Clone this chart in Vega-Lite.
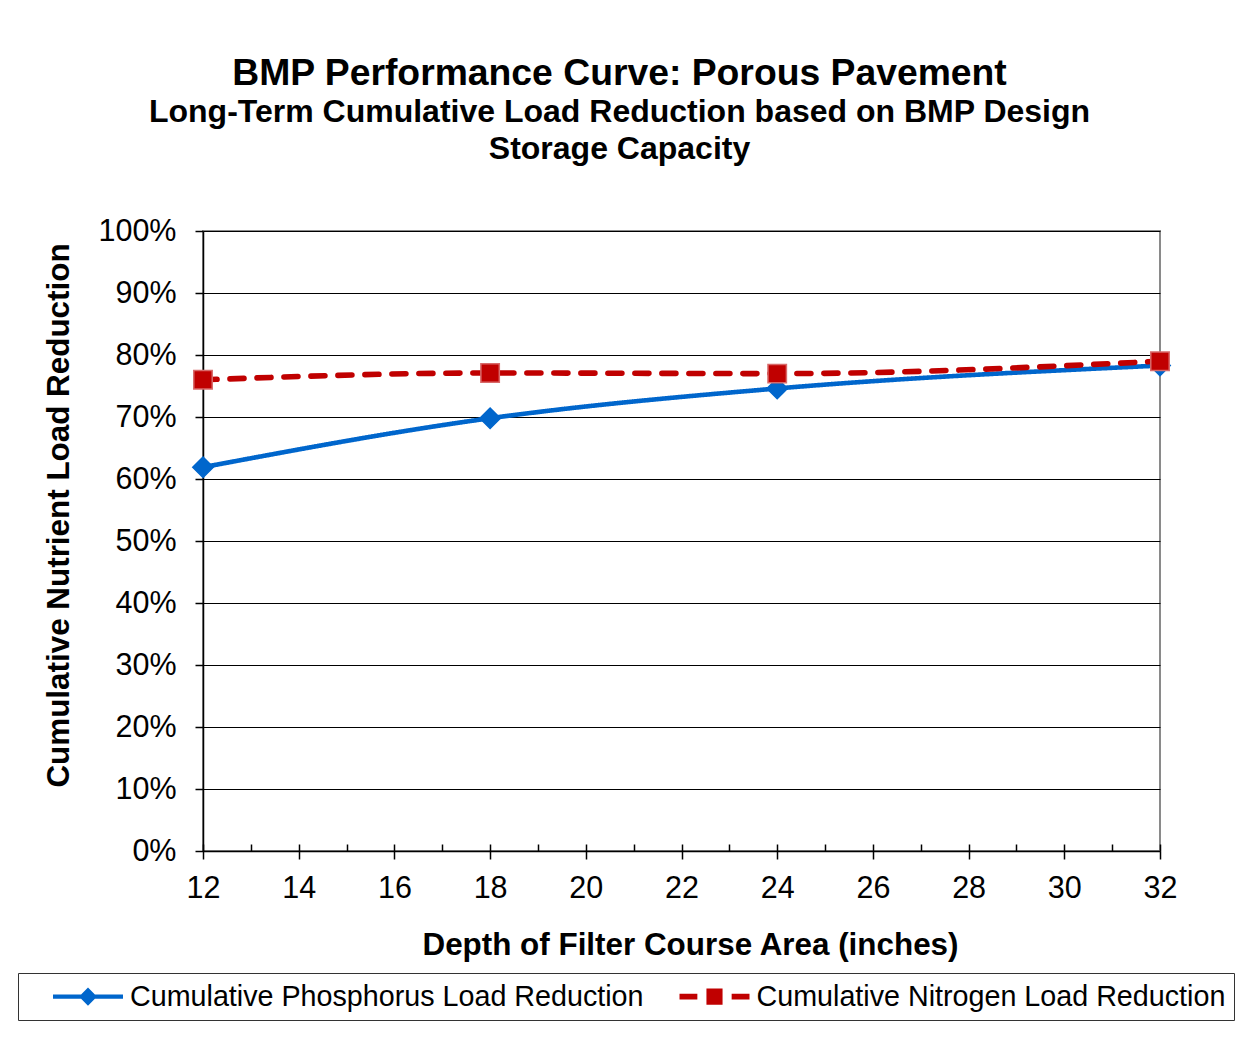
{
  "$schema": "https://vega.github.io/schema/vega-lite/v6.json",
  "width": 957,
  "height": 620,
  "autosize": "none",
  "padding": {"left": 203, "top": 231, "right": 92, "bottom": 212},
  "background": "white",
  "title": {
    "text": "BMP Performance Curve: Porous Pavement",
    "subtitle": ["Long-Term Cumulative Load Reduction based on BMP Design", "Storage Capacity"],
    "font": "Liberation Sans",
    "fontSize": 37.3,
    "fontWeight": "bold",
    "color": "#000",
    "subtitleFont": "Liberation Sans",
    "subtitleFontSize": 32,
    "subtitleFontWeight": "bold",
    "subtitleColor": "#000",
    "subtitleLineHeight": 37,
    "subtitlePadding": 4,
    "anchor": "middle",
    "dx": -62,
    "offset": 50
  },
  "data": {
    "values": [
      {"depth": 12, "value": 0.619, "series": "Cumulative Phosphorus Load Reduction"},
      {"depth": 18, "value": 0.698, "series": "Cumulative Phosphorus Load Reduction"},
      {"depth": 24, "value": 0.746, "series": "Cumulative Phosphorus Load Reduction"},
      {"depth": 32, "value": 0.783, "series": "Cumulative Phosphorus Load Reduction"},
      {"depth": 12, "value": 0.76, "series": "Cumulative Nitrogen Load Reduction"},
      {"depth": 18, "value": 0.771, "series": "Cumulative Nitrogen Load Reduction"},
      {"depth": 24, "value": 0.770, "series": "Cumulative Nitrogen Load Reduction"},
      {"depth": 32, "value": 0.79, "series": "Cumulative Nitrogen Load Reduction"}
    ]
  },
  "layer": [
    {
      "mark": {"type": "line", "interpolate": "monotone", "strokeCap": "round"},
      "encoding": {
        "x": {
          "field": "depth", "type": "quantitative",
          "scale": {"domain": [12, 32], "nice": false, "zero": false},
          "axis": {
            "orient": "bottom",
            "title": "Depth of Filter Course Area (inches)",
            "values": [12, 14, 16, 18, 20, 22, 24, 26, 28, 30, 32],
            "tickSize": 8,
            "labelPadding": 14,
            "labelFlush": false,
            "titlePadding": 26,
            "titleX": 487,
            "grid": false
          }
        },
        "y": {
          "field": "value", "type": "quantitative",
          "scale": {"domain": [0, 1], "nice": false},
          "axis": {
            "title": "Cumulative Nutrient Load Reduction",
            "values": [0, 0.1, 0.2, 0.3, 0.4, 0.5, 0.6, 0.7, 0.8, 0.9, 1],
            "format": ".0%",
            "tickSize": 8,
            "labelPadding": 19,
            "titlePadding": 22,
            "titleY": 284,
            "grid": true
          }
        },
        "color": {
          "field": "series", "type": "nominal",
          "scale": {
            "domain": ["Cumulative Phosphorus Load Reduction", "Cumulative Nitrogen Load Reduction"],
            "range": ["#0066CC", "#C00000"]
          },
          "legend": null
        },
        "strokeDash": {
          "field": "series", "type": "nominal",
          "scale": {
            "domain": ["Cumulative Phosphorus Load Reduction", "Cumulative Nitrogen Load Reduction"],
            "range": [[1, 0], [14, 13]]
          },
          "legend": null
        },
        "strokeWidth": {
          "field": "series", "type": "nominal",
          "scale": {
            "domain": ["Cumulative Phosphorus Load Reduction", "Cumulative Nitrogen Load Reduction"],
            "range": [4.6, 5.6]
          },
          "legend": null
        }
      }
    },
    {
      "mark": {"type": "point", "filled": true, "opacity": 1, "strokeWidth": 1.5},
      "encoding": {
        "x": {
          "field": "depth", "type": "quantitative",
          "axis": {
            "orient": "bottom",
            "values": [12, 13, 14, 15, 16, 17, 18, 19, 20, 21, 22, 23, 24, 25, 26, 27, 28, 29, 30, 31, 32],
            "tickSize": -7,
            "labels": false,
            "domain": false,
            "grid": false,
            "title": null
          }
        },
        "y": {"field": "value", "type": "quantitative"},
        "color": {
          "field": "series", "type": "nominal",
          "scale": {
            "domain": ["Cumulative Phosphorus Load Reduction", "Cumulative Nitrogen Load Reduction"],
            "range": ["#0066CC", "#C00000"]
          },
          "legend": null
        },
        "shape": {
          "field": "series", "type": "nominal",
          "scale": {
            "domain": ["Cumulative Phosphorus Load Reduction", "Cumulative Nitrogen Load Reduction"],
            "range": ["diamond", "square"]
          },
          "legend": null
        },
        "size": {
          "field": "series", "type": "nominal",
          "scale": {
            "domain": ["Cumulative Phosphorus Load Reduction", "Cumulative Nitrogen Load Reduction"],
            "range": [420, 340]
          },
          "legend": null
        },
        "stroke": {
          "field": "series", "type": "nominal",
          "scale": {
            "domain": ["Cumulative Phosphorus Load Reduction", "Cumulative Nitrogen Load Reduction"],
            "range": ["#0066CC", "#D86A6A"]
          },
          "legend": null
        }
      }
    },
    {
      "transform": [{"filter": "false"}],
      "mark": {"type": "point", "filled": true},
      "encoding": {
        "x": {"field": "depth", "type": "quantitative", "axis": null},
        "y": {"field": "value", "type": "quantitative"},
        "color": {
          "field": "series", "type": "nominal",
          "scale": {
            "domain": ["Cumulative Phosphorus Load Reduction", "Cumulative Nitrogen Load Reduction"],
            "range": ["#0066CC", "#C00000"]
          },
          "legend": {
            "title": null,
            "orient": "none",
            "legendX": -185,
            "legendY": 742,
            "direction": "horizontal",
            "padding": 8.5,
            "symbolOffset": 46.5,
            "symbolSize": 900,
            "symbolOpacity": 1,
            "symbolStrokeWidth": 0,
            "labelFont": "Liberation Sans",
            "labelFontSize": 28.7,
            "labelColor": "#000",
            "labelOffset": 27,
            "labelLimit": 800,
            "columnPadding": 8.5,
            "strokeColor": "#333",
            "fillColor": "white"
          }
        },
        "shape": {
          "field": "series", "type": "nominal",
          "scale": {
            "domain": ["Cumulative Phosphorus Load Reduction", "Cumulative Nitrogen Load Reduction"],
            "range": [
              "M-2.333,-0.147L-0.46,-0.147L0,-0.607L0.46,-0.147L2.333,-0.147L2.333,0.147L0.46,0.147L0,0.607L-0.46,0.147L-2.333,0.147Z",
              "M-2.333,-0.187H-1.143V0.187H-2.333Z M-0.537,-0.537H0.537V0.537H-0.537Z M1.143,-0.187H2.333V0.187H1.143Z"
            ]
          },
          "legend": {
            "title": null,
            "orient": "none",
            "legendX": -185,
            "legendY": 742,
            "direction": "horizontal",
            "padding": 8.5,
            "symbolOffset": 46.5,
            "symbolSize": 900,
            "symbolOpacity": 1,
            "symbolStrokeWidth": 0,
            "labelFont": "Liberation Sans",
            "labelFontSize": 28.7,
            "labelColor": "#000",
            "labelOffset": 27,
            "labelLimit": 800,
            "columnPadding": 8.5,
            "strokeColor": "#333",
            "fillColor": "white"
          }
        }
      }
    }
  ],
  "resolve": {
    "scale": {"color": "independent", "shape": "independent"},
    "axis": {"x": "independent"}
  },
  "config": {
    "font": "Liberation Sans",
    "view": {"stroke": "#8a8a8a", "strokeWidth": 2},
    "axis": {
      "domainColor": "#000",
      "domainWidth": 1.5,
      "tickColor": "#000",
      "tickWidth": 1.5,
      "gridColor": "#000",
      "gridWidth": 1,
      "gridOpacity": 1,
      "labelFont": "Liberation Sans",
      "labelFontSize": 30.5,
      "labelColor": "#000",
      "titleFont": "Liberation Sans",
      "titleFontSize": 31.4,
      "titleFontWeight": "bold",
      "titleColor": "#000"
    }
  }
}
